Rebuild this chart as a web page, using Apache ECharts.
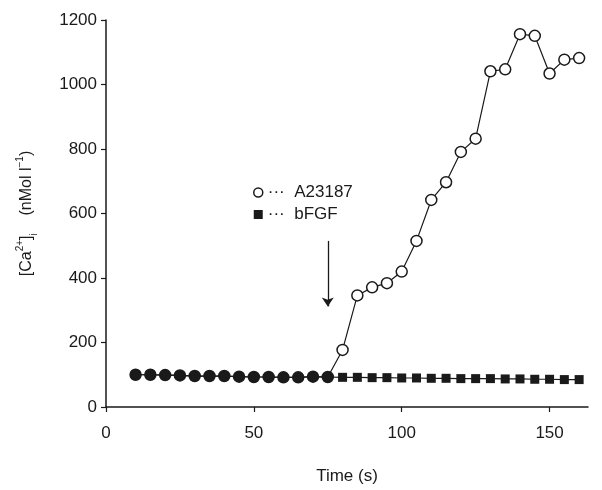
<!DOCTYPE html>
<html><head><meta charset="utf-8">
<script src="https://cdn.jsdelivr.net/npm/echarts@6/dist/echarts.min.js"></script>
<style>html,body{margin:0;padding:0;background:#fff}#c{width:602px;height:490px}</style>
</head><body><div id="c"></div>
<script>
// Time points (s)
const timeEarly = [10,15,20,25,30,35,40,45,50,55,60,65,70,75];
const timeLate = [80,85,90,95,100,105,110,115,120,125,130,135,140,145,150,155,160];
// Baseline before stimulus (both series coincide)
const baseline = [100,100,99,98,96,96,96,94,93,93,92,92,94,93];
// A23187 after stimulus
const a23187Late = [177,346,371,384,420,515,642,697,791,832,1041,1047,1156,1151,1034,1077,1082];
// bFGF after stimulus
const bfgfLate = [92,92,91,91,90,90,89,89,88,88,88,87,87,86,86,85,85];
// Arrow marking addition
const arrowX = 75, arrowTop = 515, arrowTip = 312;
const xTicks = [0,50,100,150];

const font = 'Liberation Sans, Arial, Helvetica, sans-serif';
const ink = '#1a1a1a';

const aData = timeEarly.map((t,i)=>({value:[t,baseline[i]], itemStyle:{color:ink}}))
  .concat(timeLate.map((t,i)=>({value:[t,a23187Late[i]]})));
const bData = timeEarly.map((t,i)=>({value:[t,baseline[i]], symbol:'none'}))
  .concat(timeLate.map((t,i)=>({value:[t,bfgfLate[i]]})));

const chart = echarts.init(document.getElementById('c'), null, {renderer:'canvas'});
chart.setOption({
  animation:false,
  backgroundColor:'#fff',
  textStyle:{fontFamily:font},
  grid:{left:106, right:14, top:20, bottom:79, containLabel:false},
  legend:{
    orient:'vertical', left:248, top:179, itemGap:5,
    itemWidth:9, itemHeight:9,
    textStyle:{fontFamily:font, fontSize:17, color:ink},
    formatter: n => '···  ' + n,
    data:[
      {name:'A23187', icon:'circle', itemStyle:{color:'#fff', borderColor:ink, borderWidth:1.5}},
      {name:'bFGF', icon:'rect', itemStyle:{color:ink, borderWidth:0}}
    ]
  },
  xAxis:{
    type:'value', min:0, max:163, interval:50,
    splitLine:{show:false},
    axisLine:{lineStyle:{color:ink, width:1.5}},
    axisTick:{show:true, length:5, customValues:xTicks, lineStyle:{color:ink, width:1.2}},
    axisLabel:{customValues:xTicks, margin:18, fontSize:17, color:ink, fontFamily:font},
    name:'Time (s)', nameLocation:'middle', nameGap:61,
    nameTextStyle:{fontSize:17, color:ink, fontFamily:font}
  },
  yAxis:{
    type:'value', min:0, max:1200, interval:200,
    splitLine:{show:false},
    axisLine:{show:true, lineStyle:{color:ink, width:1.5}},
    axisTick:{show:true, length:5, lineStyle:{color:ink, width:1.2}},
    axisLabel:{margin:9, fontSize:17, color:ink, fontFamily:font, formatter: v => String(v)},
    name:'[Ca{sup|2+}]{sub|i}    (nMol l{sup|−1})',
    nameLocation:'middle', nameGap:79, nameRotate:90,
    nameTextStyle:{fontSize:16, color:ink, fontFamily:font, lineHeight:24, verticalAlign:'middle',
      rich:{
        sup:{fontSize:10, verticalAlign:'top', lineHeight:24, padding:[0,0,6,0], color:ink, fontFamily:font},
        sub:{fontSize:10, verticalAlign:'bottom', lineHeight:24, color:ink, fontFamily:font}
      }}
  },
  series:[
    {
      name:'bFGF', type:'line', data:bData, symbol:'rect', symbolSize:9,
      lineStyle:{color:ink, width:1.2}, itemStyle:{color:ink, borderWidth:0}, z:2
    },
    {
      name:'A23187', type:'line', data:aData, symbol:'circle', symbolSize:11,
      lineStyle:{color:ink, width:1.2},
      itemStyle:{color:'#fff', borderColor:ink, borderWidth:1.5}, z:3,
      markLine:{
        silent:true, symbol:['none','arrow'], symbolSize:9,
        lineStyle:{color:ink, type:'solid', width:1.3},
        label:{show:false},
        data:[[{coord:[arrowX, arrowTop]},{coord:[arrowX, arrowTip]}]]
      }
    }
  ]
});
</script></body></html>
